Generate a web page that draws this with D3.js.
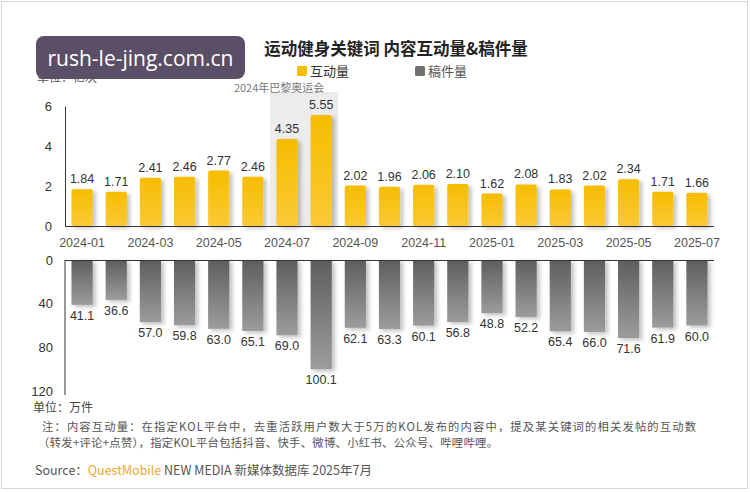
<!DOCTYPE html>
<html><head><meta charset="utf-8">
<script src="https://cdn.jsdelivr.net/npm/d3@7"></script>
<style>
html,body{margin:0;padding:0;background:#fff;}
svg{display:block;font-family:"Liberation Sans","Noto Sans CJK SC",sans-serif;}
</style></head>
<body>
<svg id="chart" width="750" height="492"></svg>
<script>
const months = ["2024-01","2024-02","2024-03","2024-04","2024-05","2024-06","2024-07","2024-08","2024-09","2024-10","2024-11","2024-12","2025-01","2025-02","2025-03","2025-04","2025-05","2025-06","2025-07"];
const interactions = [1.84,1.71,2.41,2.46,2.77,2.46,4.35,5.55,2.02,1.96,2.06,2.10,1.62,2.08,1.83,2.02,2.34,1.71,1.66];
const posts = [41.1,36.6,57.0,59.8,63.0,65.1,69.0,100.1,62.1,63.3,60.1,56.8,48.8,52.2,65.4,66.0,71.6,61.9,60.0];
const topTicks = [0,2,4,6];
const bottomTicks = [0,40,80,120];
const labeledMonths = ["2024-01","2024-03","2024-05","2024-07","2024-09","2024-11","2025-01","2025-03","2025-05","2025-07"];
const highlightMonths = ["2024-07","2024-08"];
const seriesNames = ["互动量","稿件量"];

const svg = d3.select("#chart");
const defs = svg.append("defs");
const gy = defs.append("linearGradient").attr("id","gy").attr("x1",0).attr("y1",0).attr("x2",0).attr("y2",1);
gy.append("stop").attr("offset","0%").attr("stop-color","#f6bd00");
gy.append("stop").attr("offset","100%").attr("stop-color","#fac935");
const gg = defs.append("linearGradient").attr("id","gg").attr("x1",0).attr("y1",0).attr("x2",0).attr("y2",1);
gg.append("stop").attr("offset","0%").attr("stop-color","#5e5e5e");
gg.append("stop").attr("offset","100%").attr("stop-color","#9c9c9c");
const f = defs.append("filter").attr("id","sh").attr("x","-30%").attr("y","-10%").attr("width","180%").attr("height","130%");
f.append("feDropShadow").attr("dx",3).attr("dy",2).attr("stdDeviation",2).attr("flood-color","#000").attr("flood-opacity",0.25);

// border
svg.append("rect").attr("x",1.5).attr("y",1.5).attr("width",746).attr("height",487).attr("fill","#fff").attr("stroke","#d8d8d8");

const x = d3.scaleBand().domain(months).range([65,714]).paddingInner(0.38).paddingOuter(0.19);
const yTop = d3.scaleLinear().domain([0,6]).range([226,106]);
const yBot = d3.scaleLinear().domain([0,120]).range([260,391]);

// highlight
const hx0 = x(highlightMonths[0]) - x.step()*x.paddingInner()/2;
const hx1 = x(highlightMonths[1]) + x.bandwidth() + x.step()*x.paddingInner()/2;
svg.append("rect").attr("x",hx0).attr("y",92).attr("width",hx1-hx0).attr("height",226-92).attr("fill","#ececec");
svg.append("text").attr("x",(hx0+hx1)/2 - 25).attr("y",92).attr("text-anchor","middle")
  .attr("font-size",11).attr("fill","#777").attr("font-family","Noto Sans CJK SC").text("2024年巴黎奥运会");

// title
svg.append("text").attr("x",396).attr("y",55).attr("text-anchor","middle").attr("font-size",16.5)
  .attr("font-weight","bold").attr("fill","#222").attr("font-family","Noto Sans CJK SC").text("运动健身关键词 内容互动量&稿件量");

// legend
const legend = [{n:seriesNames[0],c:"#f6c000",x:297,tc:"#333"},{n:seriesNames[1],c:"#707070",x:415,tc:"#555"}];
legend.forEach(l=>{
  svg.append("rect").attr("x",l.x).attr("y",66).attr("width",10).attr("height",10).attr("rx",1.5).attr("fill",l.c);
  svg.append("text").attr("x",l.x+13).attr("y",76).attr("font-size",13).attr("fill",l.tc).attr("font-family","Noto Sans CJK SC").text(l.n);
});

// units
svg.append("text").attr("x",37).attr("y",82).attr("font-size",12).attr("fill","#555").attr("font-family","Noto Sans CJK SC").text("单位：亿次");

// top bars
svg.append("g").selectAll("rect").data(interactions).join("rect")
  .attr("x",(d,i)=>x(months[i])).attr("y",d=>yTop(d)).attr("width",x.bandwidth())
  .attr("height",d=>yTop(0)-yTop(d)).attr("rx",2).attr("fill","url(#gy)").attr("filter","url(#sh)");
svg.append("g").selectAll("text").data(interactions).join("text")
  .attr("x",(d,i)=>x(months[i])+x.bandwidth()/2).attr("y",d=>yTop(d)-6).attr("text-anchor","middle")
  .attr("font-size",12.5).attr("fill","#333").text(d=>d.toFixed(2));

// bottom bars
svg.append("g").selectAll("rect").data(posts).join("rect")
  .attr("x",(d,i)=>x(months[i])).attr("y",yBot(0)).attr("width",x.bandwidth())
  .attr("height",d=>yBot(d)-yBot(0)).attr("fill","url(#gg)").attr("filter","url(#sh)");
svg.append("g").selectAll("text").data(posts).join("text")
  .attr("x",(d,i)=>x(months[i])+x.bandwidth()/2).attr("y",d=>yBot(d)+15).attr("text-anchor","middle")
  .attr("font-size",12.5).attr("fill","#333").text(d=>d.toFixed(1));

// axes
const axTop = svg.append("g").attr("transform","translate(65,0)")
  .call(d3.axisLeft(yTop).tickValues(topTicks).tickFormat(d3.format("d")).tickSize(0).tickPadding(13));
axTop.select(".domain").attr("stroke","#333");
axTop.selectAll("text").attr("font-size",13).attr("fill","#333").attr("font-family","Liberation Sans");
svg.append("line").attr("x1",65).attr("x2",714).attr("y1",226.5).attr("y2",226.5).attr("stroke","#333");

const axX = svg.append("g").attr("transform","translate(0,226)")
  .call(d3.axisBottom(x).tickValues(labeledMonths).tickSize(0).tickPadding(12));
axX.select(".domain").remove();
axX.selectAll("text").attr("font-size",12.5).attr("fill","#555").attr("font-family","Liberation Sans");

const axBot = svg.append("g").attr("transform","translate(65,0)")
  .call(d3.axisLeft(yBot).tickValues(bottomTicks).tickFormat(d3.format("d")).tickSize(0).tickPadding(12));
axBot.select(".domain").attr("stroke","#333").attr("d","M0,260V395");
axBot.selectAll("text").attr("font-size",13).attr("fill","#333").attr("font-family","Liberation Sans");
svg.append("line").attr("x1",65).attr("x2",714).attr("y1",260.5).attr("y2",260.5).attr("stroke","#333");

// footer
const cjk = "Noto Sans CJK SC";
svg.append("text").attr("x",33).attr("y",412).attr("font-size",12).attr("fill","#444").attr("font-family",cjk).text("单位：万件");
svg.append("text").attr("x",42).attr("y",431).attr("font-size",11.3).attr("fill","#555").attr("font-family",cjk)
  .attr("textLength",654).attr("lengthAdjust","spacing")
  .text("注：内容互动量：在指定KOL平台中，去重活跃用户数大于5万的KOL发布的内容中，提及某关键词的相关发帖的互动数");
svg.append("text").attr("x",38).attr("y",447).attr("font-size",11.3).attr("fill","#555").attr("font-family",cjk)
  .attr("textLength",460).attr("lengthAdjust","spacing")
  .text("（转发+评论+点赞），指定KOL平台包括抖音、快手、微博、小红书、公众号、哔哩哔哩。");
const src = svg.append("text").attr("x",35).attr("y",475).attr("font-size",12.5).attr("fill","#555").attr("font-family",cjk);
src.append("tspan").text("Source：");
src.append("tspan").attr("fill","#f0a830").text("QuestMobile");
src.append("tspan").text(" NEW MEDIA 新媒体数据库 2025年7月");

// watermark
svg.append("rect").attr("x",36).attr("y",36).attr("width",209).attr("height",43).attr("rx",8).attr("fill","#5a4f66");
svg.append("text").attr("x",140.5).attr("y",66).attr("text-anchor","middle").attr("font-size",21)
  .attr("fill","#fff").attr("font-family","Open Sans").text("rush-le-jing.com.cn");
</script>
</body></html>
